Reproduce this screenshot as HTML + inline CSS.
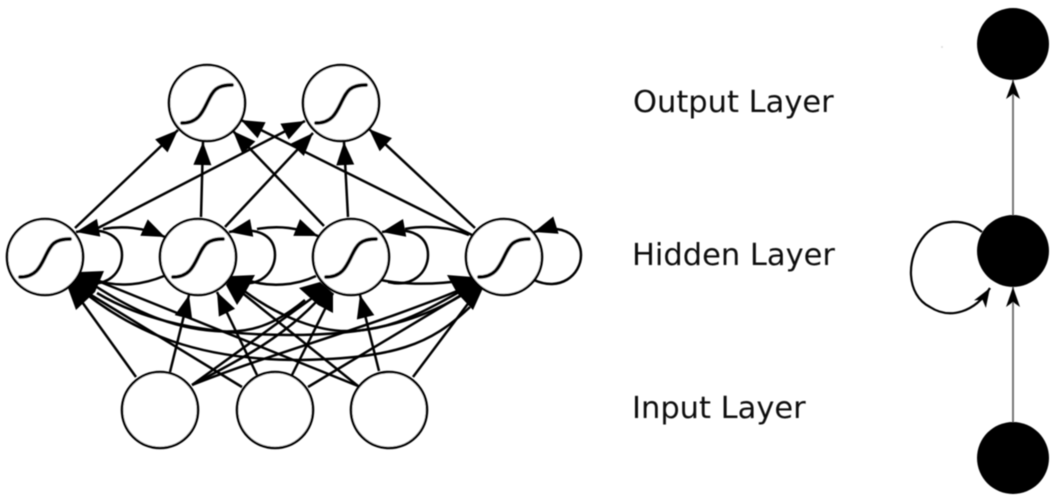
<!DOCTYPE html>
<html>
<head>
<meta charset="utf-8">
<style>
html,body{margin:0;padding:0;background:#fff;width:1057px;height:500px;overflow:hidden}
svg{display:block}
text{font-family:"DejaVu Sans","Liberation Sans",sans-serif;font-size:30.5px;fill:#0c0c0c}
</style>
</head>
<body>
<svg width="1057" height="500" viewBox="0 0 1057 500" xmlns="http://www.w3.org/2000/svg">
<defs>
<marker id="a" markerUnits="userSpaceOnUse" markerWidth="26" markerHeight="20" refX="23" refY="9" orient="auto" overflow="visible">
<path d="M0 0L23 9L0 18z" fill="#000"/>
</marker>
<marker id="c" markerUnits="userSpaceOnUse" markerWidth="24" markerHeight="18" refX="19" refY="7" orient="auto" overflow="visible">
<path d="M0 0L19 7L0 14L5 7z" fill="#000"/>
</marker>
<filter id="b" x="-5%" y="-5%" width="110%" height="110%"><feGaussianBlur stdDeviation="0.5"/></filter>
</defs>
<g filter="url(#b)">
<g fill="none" stroke="#000" stroke-width="2.5">
<!-- hidden to output -->
<path marker-end="url(#a)" d="M75 228L178 130"/>
<path marker-end="url(#a)" d="M98 228L305 121"/>
<path marker-end="url(#a)" d="M201 217L203 142"/>
<path marker-end="url(#a)" d="M225 227L313 133"/>
<path marker-end="url(#a)" d="M324 226L233 131"/>
<path marker-end="url(#a)" d="M348 217L344 142"/>
<path marker-end="url(#a)" d="M472 235L241 120"/>
<path marker-end="url(#a)" d="M475 228L369 129"/>
<!-- upper recurrent -->
<path marker-end="url(#a)" d="M103 229C125 225 145 228 165 237"/>
<path d="M469 235C450 227 425 225 405 229" />
<path marker-end="url(#a)" d="M257 229C280 225 298 228 318 236"/>
<!-- self loops -->
<path marker-end="url(#a)" d="M84 282C108 288 122 272 122 255C122 238 108 226 76 232"/>
<path marker-end="url(#a)" d="M236 282C260 288 275 272 275 255C275 238 262 226 229 232"/>
<path marker-end="url(#a)" d="M388 282C413 288 428 272 428 255C428 238 415 226 382 232"/>
<path marker-end="url(#a)" d="M534 280C560 292 581 275 581 255C581 238 566 222 534 232"/>
<!-- lower recurrent -->
<path d="M164 276C140 286 115 287 96 280"/>
<path d="M316 276C295 286 270 287 250 281"/>
<path d="M466 280C435 285 395 286 366 276"/>
<path d="M305 300C275 325 250 334 215 331C170 328 130 310 80 276"/>
<path d="M470 307C430 345 395 358 300 360C200 360 135 335 75 285"/>
<path d="M97 293C150 325 220 335 290 335C360 335 420 325 476 286"/>
<path d="M243 290C280 318 320 332 350 331C395 330 430 308 472 285"/>
<path d="M192 385C235 362 280 340 316 302"/>
<!-- input lines -->
<path d="M136 377L72 288"/>
<path d="M242 387L73 284"/>
<path d="M358 386L78 273"/>
<path marker-end="url(#a)" d="M170 372L189 295"/>
<path marker-end="url(#a)" d="M257 375L217 292"/>
<path d="M358 386L230 283"/>
<path d="M192 385L326 288"/>
<path d="M292 375L333 293"/>
<path marker-end="url(#a)" d="M379 371L360 295"/>
<path d="M192 385C280 350 380 325 476 283"/>
<path d="M308 387L478 285"/>
<path d="M413 377L482 285"/>
</g>
<!-- clustered arrowheads -->
<g fill="#000">
<path d="M80 272L104 271L95 292L76 310L68 288z"/>
<path d="M232 276L255 275L245 293L237 305L226 285z"/>
<path d="M299 288L320 282L333 293L333 313L318 305z"/>
<path d="M447 275L473 277L483 288L473 310L457 293z"/>
</g>
<g fill="none" stroke="#000" stroke-width="2.4">
<!-- circles -->
<g fill="#fff" stroke-width="2.6">
<circle cx="207" cy="103" r="38"/><circle cx="341" cy="103" r="38"/>
<circle cx="45" cy="257" r="38"/><circle cx="198" cy="257" r="38"/><circle cx="351" cy="257" r="38"/><circle cx="504" cy="257" r="38"/>
<circle cx="160" cy="410" r="38"/><circle cx="275" cy="410" r="38"/><circle cx="389" cy="410" r="38"/>
</g>
<!-- sigmoids -->
<g stroke-width="3.8" stroke-linecap="round">
<path transform="translate(207 103)" d="M-25 20C-8 20 -4 8 1 -2C6 -12 9 -18 25 -18"/>
<path transform="translate(341 103)" d="M-25 20C-8 20 -4 8 1 -2C6 -12 9 -18 25 -18"/>
<path transform="translate(45 257)" d="M-25 20C-8 20 -4 8 1 -2C6 -12 9 -18 25 -18"/>
<path transform="translate(198 257)" d="M-25 20C-8 20 -4 8 1 -2C6 -12 9 -18 25 -18"/>
<path transform="translate(351 257)" d="M-25 20C-8 20 -4 8 1 -2C6 -12 9 -18 25 -18"/>
<path transform="translate(504 257)" d="M-25 20C-8 20 -4 8 1 -2C6 -12 9 -18 25 -18"/>
</g>
</g>
<text x="633" y="112">Output Layer</text>
<text x="632" y="265">Hidden Layer</text>
<text x="632" y="418">Input Layer</text>
<!-- right diagram -->
<path d="M1013 80V215M1013 287V423" stroke="#777" stroke-width="2" fill="none"/>
<circle cx="1013" cy="44" r="36" fill="#000"/>
<circle cx="1013" cy="251" r="36" fill="#000"/>
<circle cx="1013" cy="458" r="36" fill="#000"/>
<path d="M1013 80L1020 99L1013 94L1006 99z" fill="#000"/>
<path d="M1013 287L1020 307L1013 302L1006 307z" fill="#000"/>
<path marker-end="url(#c)" d="M982 232C965 218 940 218 925 235C905 258 906 295 930 307C950 320 975 312 990 288" fill="none" stroke="#000" stroke-width="2.2"/>
<circle cx="942" cy="47" r="1" fill="#ddd"/>
</g>
</svg>
</body>
</html>
